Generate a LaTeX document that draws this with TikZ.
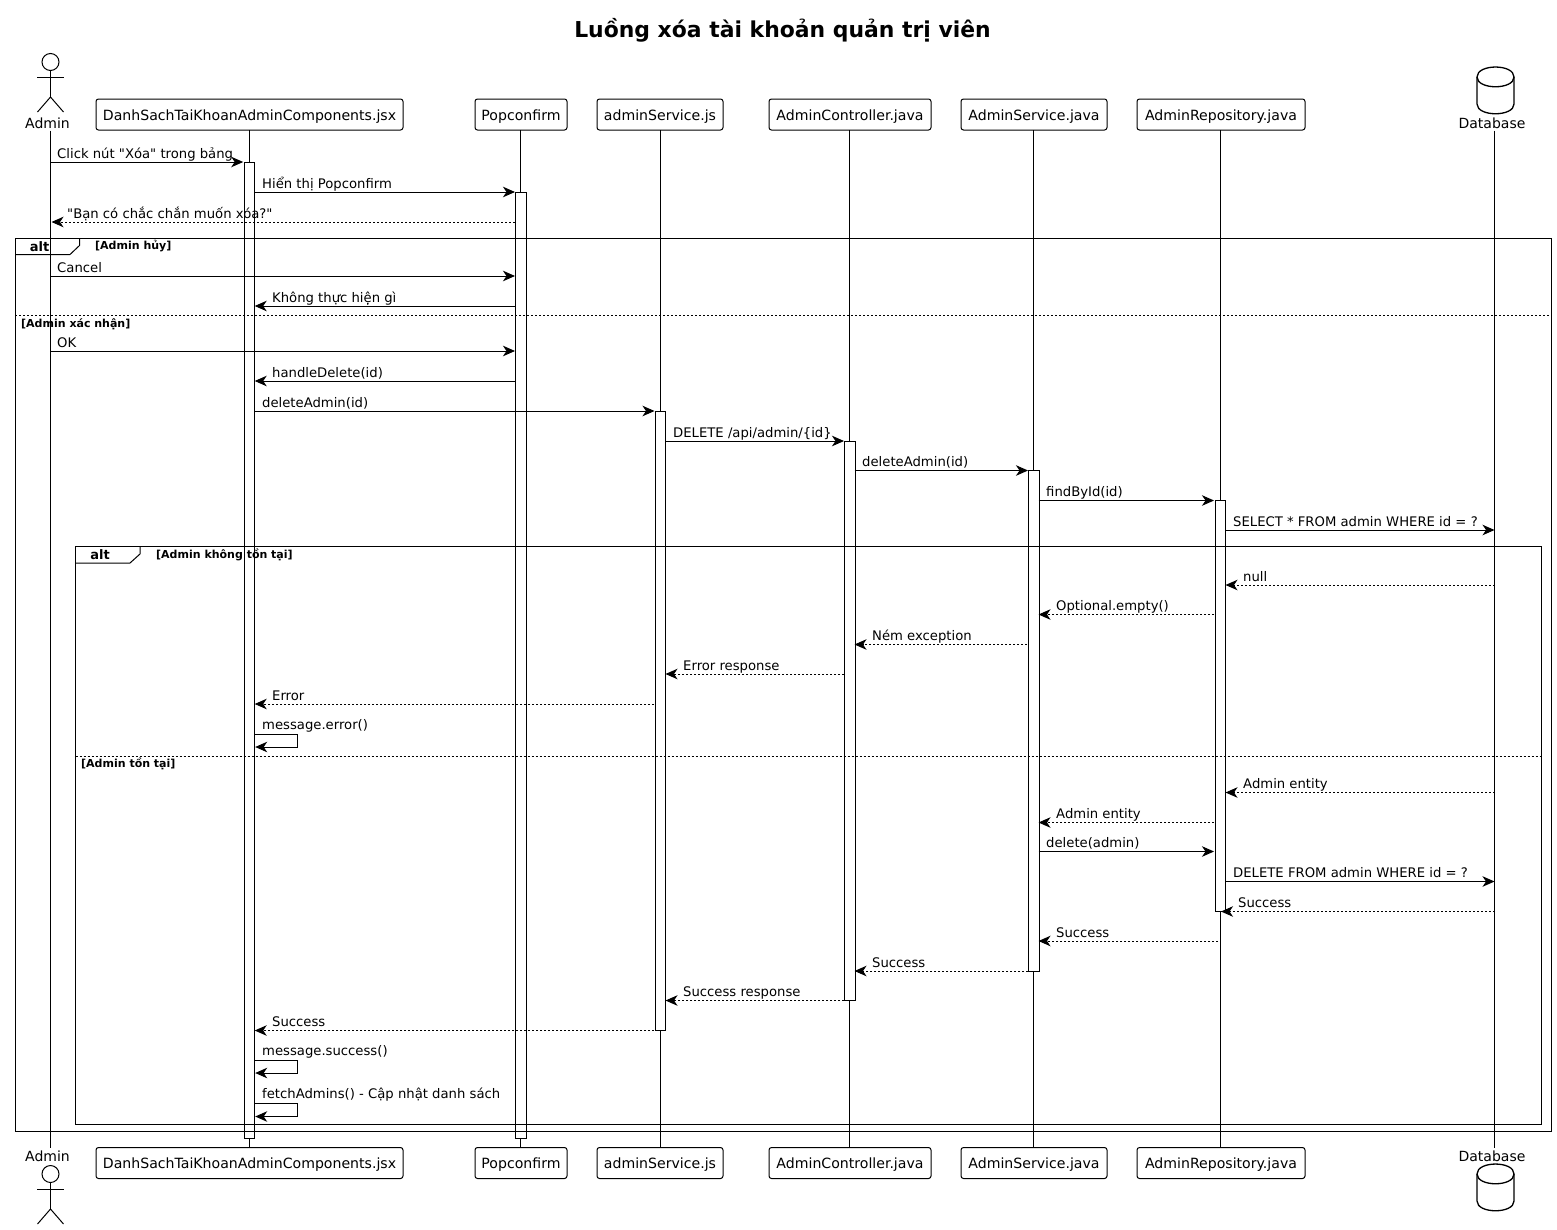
\documentclass[tikz,border=0pt]{standalone}
\usepackage{fontspec}
\setmainfont[Ligatures=ResetAll]{DejaVu Sans}
\newfontfamily\qf{DejaVu Sans}
\newcommand{\sq}{{\qf\symbol{34}}}
\usetikzlibrary{arrows.meta,calc}
\newcommand{\fs}[1]{\fontsize{#1}{#1}\selectfont}
\tikzset{
  part/.style={draw=black,line width=1pt,rounded corners=2.5pt,fill=white,inner sep=0pt,minimum height=31pt,text height=14pt,text depth=3pt,font=\fs{14.1}},
  lbl/.style={inner sep=0pt,font=\fs{14}},
  life/.style={line width=1pt,draw=black},
  act/.style={line width=1pt,draw=black,fill=white},
  frm/.style={line width=1pt,draw=black},
  sep/.style={line width=1pt,draw=black,dash pattern=on 2pt off 2pt},
  tipr/.style={-{Stealth[length=12pt,width=10.5pt,inset=3.5pt]}},
  call/.style={line width=1pt,draw=black,tipr},
  ret/.style={line width=1pt,draw=black,dash pattern=on 2pt off 2pt,tipr},
  mtxt/.style={anchor=base west,inner sep=0pt,font=\fs{13.2}},
  ftitle/.style={inner sep=0pt,font=\fs{13}\bfseries},
  fcond/.style={anchor=west,inner sep=0pt,font=\fs{11}\bfseries},
}
% style, from, from-offset, to, to-offset, y, text-x, text
\newcommand{\msg}[8]{\draw[#1] ([xshift=#3]#2 |- 0,#6) -- ([xshift=#5]#4 |- 0,#6);
  \node[mtxt] at (#7,#6-3.8) {#8};}
\newcommand{\selfmsg}[5]{\draw[call] ([xshift=5.5]#1 |- 0,#2) -- ([xshift=48]#1 |- 0,#2) -- ([xshift=48]#1 |- 0,#3) -- ([xshift=6]#1 |- 0,#3);
  \node[mtxt] at (#4,#2-4.2) {#5};}
\newcommand{\actbar}[3]{\draw[act] ([xshift=-5]#1 |- 0,#2) rectangle ([xshift=5.5]#1 |- 0,#3);}
\newcommand{\actor}[2]{%
  \draw[line width=1pt] (#1,#2) circle (8.5);
  \draw[line width=1pt] (#1,#2+8.5) -- (#1,#2+35);
  \draw[line width=1pt] (#1-13.5,#2+15.5) -- (#1+13.5,#2+15.5);
  \draw[line width=1pt] (#1-13,#2+50) -- (#1,#2+35) -- (#1+13,#2+50);}
\newcommand{\cyl}[2]{%
  \draw[line width=1.3pt] (#1-18.5,#2+10) .. controls (#1-18.5,#2-3.3) and (#1+18.5,#2-3.3) .. (#1+18.5,#2+10)
    -- (#1+18.5,#2+37) .. controls (#1+18.5,#2+50) and (#1-18.5,#2+50) .. (#1-18.5,#2+37) -- cycle;
  \draw[line width=1.3pt] (#1-18.5,#2+10) .. controls (#1-18.5,#2+23) and (#1+18.5,#2+23) .. (#1+18.5,#2+10);}
\begin{document}
\begin{tikzpicture}[x=1pt,y=-1pt]
\useasboundingbox (0,0) rectangle (1557,1229);
\fill[white] (0,0) rectangle (1557,1229);
\node[inner sep=0pt,font=\fs{21.9}\bfseries] (title) at (782.5,30) {Luồng xóa tài khoản quản trị viên};

% participants (head)
\node[lbl] (adminT) at (47.5,123) {Admin};
\node[part,minimum width=307pt] (danhT) at (249.5,114.5) {DanhSachTaiKhoanAdminComponents.jsx};
\node[part,minimum width=92pt] (popT) at (521,114.5) {Popconfirm};
\node[part,minimum width=126pt] (svcjsT) at (660,114.5) {adminService.js};
\node[part,minimum width=162pt] (ctlT) at (850,114.5) {AdminController.java};
\node[part,minimum width=146pt] (svcT) at (1034,114.5) {AdminService.java};
\node[part,minimum width=168pt] (repoT) at (1221,114.5) {AdminRepository.java};
\node[lbl] (dbT) at (1492,123) {Database};
% participants (foot)
\node[lbl] (adminB) at (47.5,1156) {Admin};
\node[part,minimum width=307pt] (danhB) at (249.5,1163) {DanhSachTaiKhoanAdminComponents.jsx};
\node[part,minimum width=92pt] (popB) at (521,1163) {Popconfirm};
\node[part,minimum width=126pt] (svcjsB) at (660,1163) {adminService.js};
\node[part,minimum width=162pt] (ctlB) at (850,1163) {AdminController.java};
\node[part,minimum width=146pt] (svcB) at (1034,1163) {AdminService.java};
\node[part,minimum width=168pt] (repoB) at (1221,1163) {AdminRepository.java};
\node[lbl] (dbB) at (1492,1156) {Database};

\actor{50.5}{62}
\actor{50.5}{1174}
\cyl{1495.5}{67}
\cyl{1495.5}{1164}

% lifeline anchors
\coordinate (LA) at (50.5,130.5);
\coordinate (LAb) at (50.5,1148);
\coordinate (LD) at (249.2,130);
\coordinate (LP) at (520.5,130);
\coordinate (LJ) at (660,130);
\coordinate (LC) at (849.5,130);
\coordinate (LS) at (1033.5,130);
\coordinate (LR) at (1220,130);
\coordinate (LB) at (1494.5,130.5);
\coordinate (LBb) at (1494.5,1148);

\draw[life] (LA) -- (LAb);
\draw[life] (LD) -- (LD |- danhB.north);
\draw[life] (LP) -- (LP |- popB.north);
\draw[life] (LJ) -- (LJ |- svcjsB.north);
\draw[life] (LC) -- (LC |- ctlB.north);
\draw[life] (LS) -- (LS |- svcB.north);
\draw[life] (LR) -- (LR |- repoB.north);
\draw[life] (LB) -- (LBb);

% activations
\actbar{LD}{162}{1138}
\actbar{LP}{192}{1138}
\actbar{LJ}{411}{1030}
\actbar{LC}{441}{1000}
\actbar{LS}{470}{971}
\actbar{LR}{500}{911}

% frames
\draw[frm] (15,238) rectangle (1551,1131);
\draw[frm] (15,254.5) -- (70,254.5) -- (79.5,245.5) -- (79.5,238);
\node[ftitle] (altA) at (39.5,246.5) {alt};
\node[fcond] (condA) at (95,246.5) {[Admin hủy]};
\draw[sep] (15,315) -- (1551,315);
\node[fcond] (condB) at (21,324) {[Admin xác nhận]};

\draw[frm] (75.7,546) rectangle (1541,1124);
\draw[frm] (75.7,563) -- (130,563) -- (140,554) -- (140,546);
\node[ftitle] (altB) at (100,555) {alt};
\node[fcond] (condC) at (156,555) {[Admin không tồn tại]};
\draw[sep] (75.7,756) -- (1541,756);
\node[fcond] (condD) at (81,764) {[Admin tồn tại]};

% messages
\msg{call}{LA}{0}{LD}{-6}{162}{57}{Click nút \sq Xóa\sq{} trong bảng}
\msg{call}{LD}{5.5}{LP}{-5.5}{192}{262}{Hiển thị Popconfirm}
\msg{ret}{LP}{-6}{LA}{1}{222}{67}{\sq Bạn có chắc chắn muốn xóa?\sq}
\msg{call}{LA}{0}{LP}{-5.5}{276}{57}{Cancel}
\msg{call}{LP}{-5}{LD}{5.5}{306}{272}{Không thực hiện gì}
\msg{call}{LA}{0}{LP}{-5.5}{351}{57}{OK}
\msg{call}{LP}{-5}{LD}{5.5}{381}{272}{handleDelete(id)}
\msg{call}{LD}{5.5}{LJ}{-5.5}{411}{262}{deleteAdmin(id)}
\msg{call}{LJ}{5.5}{LC}{-5.5}{441}{673}{DELETE /api/admin/\{id\}}
\msg{call}{LC}{5}{LS}{-5.5}{470.5}{862}{deleteAdmin(id)}
\msg{call}{LS}{5}{LR}{-6}{500.5}{1046}{findById(id)}
\msg{call}{LR}{5.5}{LB}{0}{530}{1233}{SELECT * FROM admin WHERE id = ?}
\msg{ret}{LB}{0}{LR}{5.5}{585}{1243}{null}
\msg{ret}{LR}{-6}{LS}{5}{614.5}{1056}{Optional.empty()}
\msg{ret}{LS}{-6.5}{LC}{5}{644.5}{872}{Ném exception}
\msg{ret}{LC}{-5.5}{LJ}{5.5}{674}{683}{Error response}
\msg{ret}{LJ}{-6}{LD}{5.5}{704}{272}{Error}
\selfmsg{LD}{734}{747}{262}{message.error()}
\msg{ret}{LB}{0}{LR}{5.5}{792.5}{1243}{Admin entity}
\msg{ret}{LR}{-6}{LS}{5}{822.5}{1056}{Admin entity}
\msg{call}{LS}{5}{LR}{-6}{851.5}{1046}{delete(admin)}
\msg{call}{LR}{5.5}{LB}{0}{881.5}{1233}{DELETE FROM admin WHERE id = ?}
\msg{ret}{LB}{0}{LR}{1}{911.5}{1238}{Success}
\msg{ret}{LR}{-2}{LS}{5}{941}{1056}{Success}
\msg{ret}{LS}{-5.5}{LC}{5}{971}{872}{Success}
\msg{ret}{LC}{-5.5}{LJ}{5.5}{1000.5}{683}{Success response}
\msg{ret}{LJ}{-6}{LD}{5.5}{1030.5}{272}{Success}
\selfmsg{LD}{1060}{1073}{262}{message.success()}
\selfmsg{LD}{1103}{1116.5}{262}{fetchAdmins() - Cập nhật danh sách}
\end{tikzpicture}
\end{document}
